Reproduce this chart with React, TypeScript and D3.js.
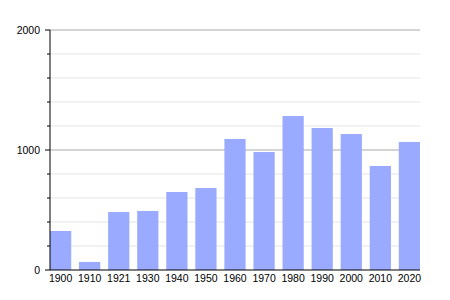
import React from "react";
import * as d3 from "d3";

const years = ["1900","1910","1921","1930","1940","1950","1960","1970","1980","1990","2000","2010","2020"];
const population = [325, 67, 483, 492, 650, 683, 1092, 983, 1283, 1183, 1133, 867, 1067];
const majorTicks = [0, 1000, 2000];
const minorTicks = [200, 400, 600, 800, 1200, 1400, 1600, 1800];

export default function App() {
  const W = 450, H = 300;
  const left = 50, right = 420, top = 30, bottom = 270;
  const x = d3.scaleBand<string>().domain(years).range([left, right]).paddingInner(0.27).paddingOuter(0);
  const y = d3.scaleLinear().domain([0, 2000]).range([bottom, top]);
  const font = "'Liberation Sans', Arial, sans-serif";
  return (
    <svg width={W} height={H} style={{ position: "absolute", left: 0, top: 0 }} fontFamily={font}>
      <rect width={W} height={H} fill="#fff" />
      {minorTicks.map((t) => (
        <g key={"m" + t}>
          <line x1={left} x2={right} y1={y(t)} y2={y(t)} stroke="#e4e4e4" strokeWidth={1} />
          <line x1={left - 3} x2={left} y1={y(t)} y2={y(t)} stroke="#000" strokeWidth={1} />
        </g>
      ))}
      {majorTicks.filter((t) => t > 0).map((t) => (
        <line key={"g" + t} x1={left} x2={right} y1={y(t)} y2={y(t)} stroke="#aaaaaa" strokeWidth={1} />
      ))}
      {population.map((v, i) => (
        <rect key={years[i]} x={x(years[i])} y={y(v)} width={x.bandwidth()} height={bottom - y(v)} fill="#99aaff" />
      ))}
      {majorTicks.map((t) => (
        <g key={"M" + t}>
          <line x1={left - 5} x2={left} y1={y(t)} y2={y(t)} stroke="#000" strokeWidth={1} />
          <text x={left - 10} y={y(t)} dy="0.35em" textAnchor="end" fontSize={10.5} fill="#000">{t}</text>
        </g>
      ))}
      <line x1={left} x2={left} y1={top} y2={bottom} stroke="#000" strokeWidth={1} />
      <line x1={left} x2={right} y1={bottom} y2={bottom} stroke="#000" strokeWidth={1} />
      {years.map((yr) => (
        <text key={"t" + yr} x={(x(yr) as number) + x.bandwidth() / 2} y={bottom + 12} textAnchor="middle" fontSize={10.5} fill="#000">{yr}</text>
      ))}
    </svg>
  );
}
